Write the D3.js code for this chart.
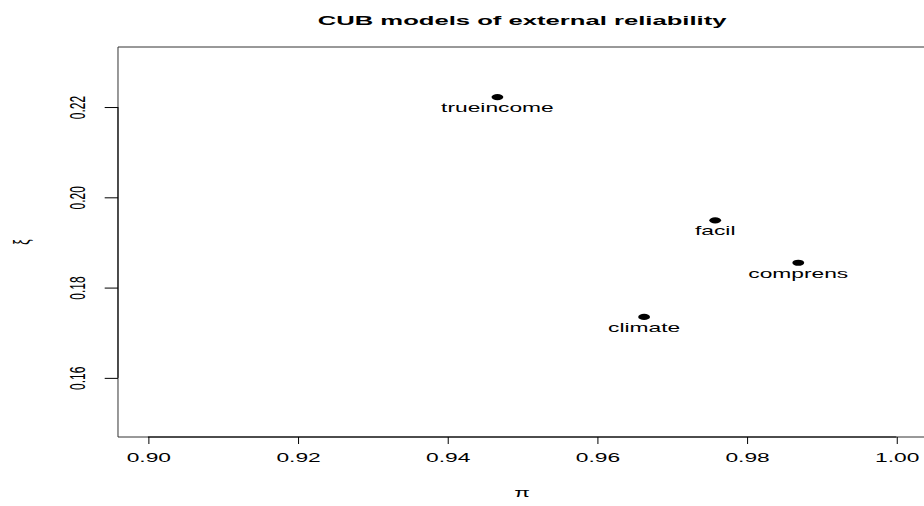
<!DOCTYPE html>
<html>
<head>
<meta charset="utf-8">
<script src="https://cdn.jsdelivr.net/npm/d3@7"></script>
<style>
  body { margin: 0; background: #fff; }
  svg { display: block; }
  text { font-family: "Liberation Sans", Arial, sans-serif; fill: #000; }
</style>
</head>
<body>
<script>
// the picture is an R plot stretched sideways, so draw in a narrow frame and stretch it
const width = 924;
const height = 506;
const stretch = 1.9;
const base_w = width / stretch;

const labels = ['trueincome', 'facil', 'comprens', 'climate'];
const pi_values = [0.9467, 0.9758, 0.9869, 0.9663];
const xi_values = [0.2222, 0.1949, 0.1855, 0.1735];
const x_ticks = [0.90, 0.92, 0.94, 0.96, 0.98, 1.00];
const y_ticks = [0.16, 0.18, 0.20, 0.22];

const plot_left = 62.1, plot_right = 487.5, plot_top = 47, plot_bottom = 437;

const svg = d3.select('body')
    .append('svg')
    .attr('width', width)
    .attr('height', height)
    .attr('viewBox', `0 0 ${base_w} ${height}`)
    .attr('preserveAspectRatio', 'none');

const x_scale = d3.scaleLinear()
    .domain([0.896, 1.004])
    .range([plot_left, plot_right]);
const y_scale = d3.scaleLinear()
    .domain([0.1469, 0.2333])
    .range([plot_bottom, plot_top]);

// plot box
svg.append('rect')
    .attr('x', plot_left)
    .attr('y', plot_top)
    .attr('width', plot_right - plot_left)
    .attr('height', plot_bottom - plot_top)
    .attr('fill', 'none')
    .attr('stroke', '#333')
    .attr('vector-effect', 'non-scaling-stroke');

const x_axis = svg.append('g')
    .attr('transform', `translate(0,${plot_bottom})`)
    .call(d3.axisBottom(x_scale).tickValues(x_ticks).tickFormat(d3.format('.2f')).tickSize(7).tickPadding(9));
x_axis.select('.domain')
    .attr('d', `M${x_scale(x_ticks[0])},0H${x_scale(x_ticks[x_ticks.length - 1])}`);
x_axis.selectAll('text')
    .attr('font-size', 12)
    .attr('font-family', '"Liberation Sans", Arial, sans-serif');

const y_axis = svg.append('g')
    .attr('transform', `translate(${plot_left},0)`)
    .call(d3.axisLeft(y_scale).tickValues(y_ticks).tickFormat(d3.format('.2f')).tickSize(7));
y_axis.select('.domain')
    .attr('d', `M0,${y_scale(y_ticks[0])}V${y_scale(y_ticks[y_ticks.length - 1])}`);
y_axis.selectAll('text')
    .attr('font-size', 12)
    .attr('font-family', '"Liberation Sans", Arial, sans-serif')
    .attr('x', null)
    .attr('dy', null)
    .attr('text-anchor', 'middle')
    .attr('transform', `translate(${44.5 - plot_left},0) rotate(-90)`);

svg.selectAll('.domain, .tick line')
    .attr('stroke', '#000')
    .attr('vector-effect', 'non-scaling-stroke');

// points and their labels
svg.append('g').selectAll('circle')
    .data(labels)
    .enter().append('circle')
    .attr('cx', (d, i) => x_scale(pi_values[i]))
    .attr('cy', (d, i) => y_scale(xi_values[i]))
    .attr('r', 3.1)
    .attr('fill', '#000');

svg.append('g').selectAll('text')
    .data(labels)
    .enter().append('text')
    .attr('x', (d, i) => x_scale(pi_values[i]))
    .attr('y', (d, i) => y_scale(xi_values[i]) + 15)
    .attr('text-anchor', 'middle')
    .attr('font-size', 12)
    .text(d => d);

// titles
svg.append('text')
    .attr('x', (plot_left + plot_right) / 2)
    .attr('y', 25)
    .attr('text-anchor', 'middle')
    .attr('font-size', 13.5)
    .attr('font-weight', 'bold')
    .text('CUB models of external reliability');

svg.append('text')
    .attr('x', (plot_left + plot_right) / 2)
    .attr('y', 497)
    .attr('text-anchor', 'middle')
    .attr('font-size', 12)
    .text('π');

svg.append('text')
    .attr('transform', `translate(15,${(plot_top + plot_bottom) / 2}) rotate(-90)`)
    .attr('text-anchor', 'middle')
    .attr('font-size', 12)
    .text('ξ');
</script>
</body>
</html>
